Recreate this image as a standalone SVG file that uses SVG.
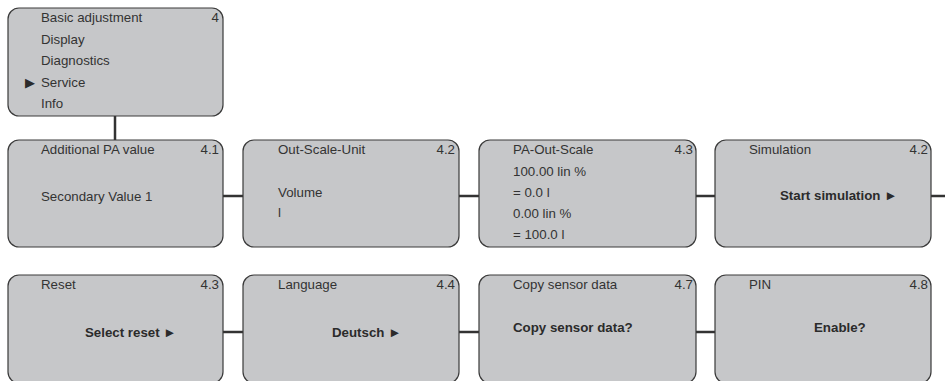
<svg xmlns="http://www.w3.org/2000/svg" width="945" height="381" viewBox="0 0 945 381">
<style>
.box{fill:#c6c7c9;stroke:#3a3a3a;stroke-width:1.2}
.t{font-family:"Liberation Sans",Arial,sans-serif;font-size:13.3px;fill:#333}
.n{font-family:"Liberation Sans",Arial,sans-serif;font-size:13.3px;fill:#333;text-anchor:end}
.b{font-family:"Liberation Sans",Arial,sans-serif;font-size:13.3px;font-weight:bold;fill:#2b2b2b}
.c{stroke:#333;stroke-width:2.5;fill:none}
</style>
<rect width="945" height="381" fill="#fff"/>
<g id="connectors">
<line class="c" x1="115" y1="116" x2="115" y2="140"/>
<line class="c" x1="223" y1="196" x2="243" y2="196"/>
<line class="c" x1="459" y1="196" x2="479" y2="196"/>
<line class="c" x1="696" y1="196" x2="715" y2="196"/>
<line class="c" x1="931" y1="196" x2="945" y2="196"/>
<line class="c" x1="223" y1="332" x2="243" y2="332"/>
<line class="c" x1="459" y1="332" x2="479" y2="332"/>
<line class="c" x1="696" y1="332" x2="715" y2="332"/>
</g>
<g id="menu">
<rect class="box" x="8" y="8" width="215" height="108" rx="11"/>
<text class="t" x="41" y="22">Basic adjustment</text>
<text class="n" x="219" y="22">4</text>
<text class="t" x="41" y="43.5">Display</text>
<text class="t" x="41" y="65">Diagnostics</text>
<text x="25" y="87" style="font-family:'DejaVu Sans',sans-serif;font-size:13px;fill:#2b2b2b">▶</text>
<text class="t" x="41" y="86.5">Service</text>
<text class="t" x="41" y="108">Info</text>
</g>
<g id="n41">
<rect class="box" x="8" y="140" width="215" height="107" rx="11"/>
<text class="t" x="41" y="153.5">Additional PA value</text>
<text class="n" x="219" y="153.5">4.1</text>
<text class="t" x="41" y="200.5">Secondary Value 1</text>
</g>
<g id="n42">
<rect class="box" x="243" y="140" width="216" height="107" rx="11"/>
<text class="t" x="278" y="153.5">Out-Scale-Unit</text>
<text class="n" x="455" y="153.5">4.2</text>
<text class="t" x="278" y="196.5">Volume</text>
<text class="t" x="278" y="217">l</text>
</g>
<g id="n43">
<rect class="box" x="479" y="140" width="217" height="107" rx="11"/>
<text class="t" x="513" y="153.5">PA-Out-Scale</text>
<text class="n" x="693" y="153.5">4.3</text>
<text class="t" x="513" y="175.5">100.00 lin %</text>
<text class="t" x="513" y="196.5">= 0.0 l</text>
<text class="t" x="513" y="217.5">0.00 lin %</text>
<text class="t" x="513" y="239">= 100.0 l</text>
</g>
<g id="nsim">
<rect class="box" x="715" y="140" width="216" height="107" rx="11"/>
<text class="t" x="749" y="153.5">Simulation</text>
<text class="n" x="928" y="153.5">4.2</text>
<text class="b" x="780" y="200">Start simulation ►</text>
</g>
<g id="nreset">
<rect class="box" x="8" y="275" width="215" height="108" rx="11"/>
<text class="t" x="41" y="289">Reset</text>
<text class="n" x="219" y="289">4.3</text>
<text class="b" x="85" y="337">Select reset ►</text>
</g>
<g id="nlang">
<rect class="box" x="243" y="275" width="216" height="108" rx="11"/>
<text class="t" x="278" y="289">Language</text>
<text class="n" x="455" y="289">4.4</text>
<text class="b" x="332" y="337">Deutsch ►</text>
</g>
<g id="ncopy">
<rect class="box" x="479" y="275" width="217" height="108" rx="11"/>
<text class="t" x="513" y="289">Copy sensor data</text>
<text class="n" x="693" y="289">4.7</text>
<text class="b" x="513" y="332">Copy sensor data?</text>
</g>
<g id="npin">
<rect class="box" x="715" y="275" width="216" height="108" rx="11"/>
<text class="t" x="749" y="289">PIN</text>
<text class="n" x="928" y="289">4.8</text>
<text class="b" x="814" y="332">Enable?</text>
</g>
</svg>
